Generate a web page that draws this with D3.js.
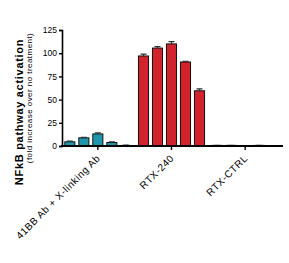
<!DOCTYPE html>
<html>
<head>
<meta charset="utf-8">
<script src="https://cdn.jsdelivr.net/npm/d3@7"></script>
<style>
  body { margin: 0; background: #fff; }
  text { font-family: "Liberation Sans", Arial, sans-serif; }
</style>
</head>
<body>
<script>
var width = 289
var height = 263

var groups = ["41BB Ab + X-linking Ab", "RTX-240", "RTX-CTRL"]
var doses = [0, 1, 2, 3, 4]
var means = [
  [4.5, 8.8, 13, 3.8, 0.6],
  [97, 105.5, 110, 90.5, 59.5],
  [0.8, 0.8, 0, 0.8, 0]
]
var errs = [
  [0.8, 0.4, 1.2, 0.8, 0.3],
  [2, 1.5, 2.5, 0.6, 2],
  [0.3, 0.3, 0, 0.3, 0]
]
var colors = ["#1e97ae", "#d2232c", "#d2232c"]
var yTicks = [0, 25, 50, 75, 100, 125]

const svg = d3.select("body").append("svg")
  .attr("width", width).attr("height", height)

var x = d3.scaleBand().domain(groups).range([61, 282]).padding(0)
var xi = d3.scaleBand().domain(doses).range([-35, 35]).paddingInner(0.28).paddingOuter(0.14)
var y = d3.scaleLinear().domain([0, 125]).range([146, 30])

// bars
const g = svg.append("g")
groups.forEach((grp, gi) => {
  const cx = x(grp) + x.bandwidth() / 2
  const data = doses.map(d => ({ d: d, v: means[gi][d], e: errs[gi][d] }))
  const bg = g.append("g").attr("transform", `translate(${cx},0)`)
  bg.selectAll("rect").data(data).join("rect")
    .attr("x", d => xi(d.d))
    .attr("y", d => y(d.v))
    .attr("width", xi.bandwidth())
    .attr("height", d => y(0) - y(d.v))
    .attr("fill", colors[gi])
    .attr("stroke", gi == 2 ? "#888" : "#111")
    .attr("stroke-width", 1)
  // error bars
  bg.selectAll("path.err").data(data.filter(d => d.e > 0)).join("path")
    .attr("class", "err")
    .attr("d", d => {
      const m = xi(d.d) + xi.bandwidth() / 2
      return `M${m},${y(d.v)}V${y(d.v + d.e)}M${m - 3},${y(d.v + d.e)}H${m + 3}`
    })
    .attr("stroke", gi == 2 ? "#999" : "#333").attr("stroke-width", 1.2).attr("fill", "none")
})

// y axis
const ya = svg.append("g").attr("transform", "translate(62,0)")
  .call(d3.axisLeft(y).tickValues(yTicks).tickSize(3).tickPadding(2))
ya.select(".domain").attr("stroke-width", 1.6)
ya.selectAll(".tick line").attr("stroke-width", 1.4)
ya.selectAll("text").attr("font-size", 8.5).attr("fill", "#000")

// x axis
const xa = svg.append("g").attr("transform", "translate(0,146)")
  .call(d3.axisBottom(x).tickSize(4).tickSizeOuter(0))
xa.select(".domain").attr("stroke-width", 2).attr("d", "M61,0H283")
xa.selectAll(".tick line").attr("stroke-width", 1.4)
xa.selectAll("text")
  .attr("font-size", 10).attr("fill", "#000")
  .attr("letter-spacing", 0.5)
  .attr("text-anchor", "end")
  .attr("dy", null).attr("y", 0)
  .attr("transform", "translate(3,13) rotate(-45)")

// axis titles
svg.append("text")
  .attr("transform", "translate(23,112) rotate(-90)")
  .attr("text-anchor", "middle")
  .attr("font-size", 11).attr("font-weight", "bold")
  .attr("letter-spacing", 0.7)
  .text("NFkB pathway activation")
svg.append("text")
  .attr("transform", "translate(32,98) rotate(-90)")
  .attr("text-anchor", "middle")
  .attr("font-size", 8)
  .attr("letter-spacing", 0.45)
  .text("(fold increase over no treatment)")
</script>
</body>
</html>
